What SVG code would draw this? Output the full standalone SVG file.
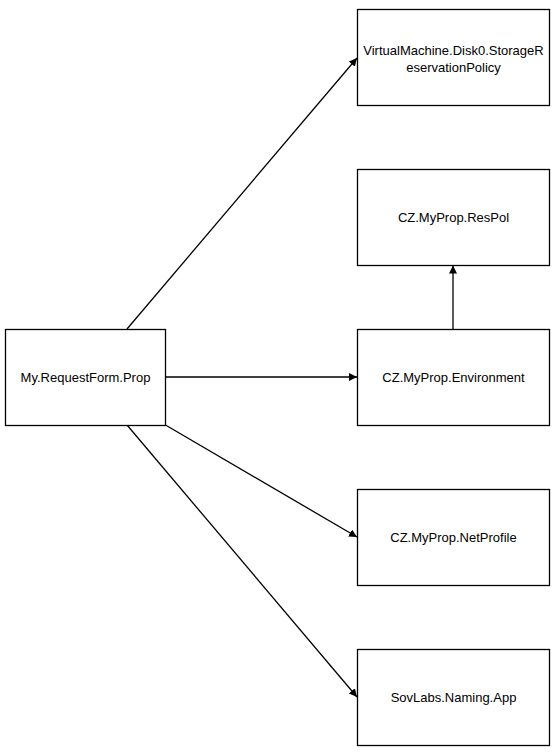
<svg xmlns="http://www.w3.org/2000/svg" width="558" height="753" viewBox="0 0 558 753">
<style>
.box{fill:#fff;stroke:#000;stroke-width:1.3}
.t{font-family:"Liberation Sans",Arial,sans-serif;font-size:13px;fill:#000;text-anchor:middle}
.c{stroke:#000;stroke-width:1.3;fill:none;marker-end:url(#ah)}
</style>
<defs>
<marker id="ah" viewBox="0 0 10 10" refX="10" refY="5" markerWidth="8" markerHeight="8" markerUnits="userSpaceOnUse" orient="auto">
<path d="M0,0 L10,5 L0,10 z" fill="#000"/>
</marker>
</defs>
<rect width="558" height="753" fill="#fff"/>
<g id="connectors">
<line class="c" x1="127" y1="329" x2="357" y2="58"/>
<line class="c" x1="165.5" y1="377" x2="357" y2="377"/>
<line class="c" x1="453" y1="329" x2="453" y2="265.5"/>
<line class="c" x1="165.5" y1="425" x2="357" y2="537"/>
<line class="c" x1="127" y1="425" x2="357" y2="697"/>
</g>
<g id="n_req"><rect class="box" x="5.5" y="329.5" width="160" height="96"/><text class="t" x="85.5" y="382">My.RequestForm.Prop</text></g>
<g id="n_vm"><rect class="box" x="357.5" y="9.5" width="192" height="96"/><text class="t" x="453.5" y="55">VirtualMachine.Disk0.StorageR</text><text class="t" x="453.5" y="72">eservationPolicy</text></g>
<g id="n_respol"><rect class="box" x="357.5" y="169.5" width="192" height="96"/><text class="t" x="453.5" y="222">CZ.MyProp.ResPol</text></g>
<g id="n_env"><rect class="box" x="357.5" y="329.5" width="192" height="96"/><text class="t" x="453.5" y="382">CZ.MyProp.Environment</text></g>
<g id="n_net"><rect class="box" x="357.5" y="489.5" width="192" height="96"/><text class="t" x="453.5" y="542">CZ.MyProp.NetProfile</text></g>
<g id="n_sov"><rect class="box" x="357.5" y="649.5" width="192" height="96"/><text class="t" x="453.5" y="702">SovLabs.Naming.App</text></g>
</svg>
